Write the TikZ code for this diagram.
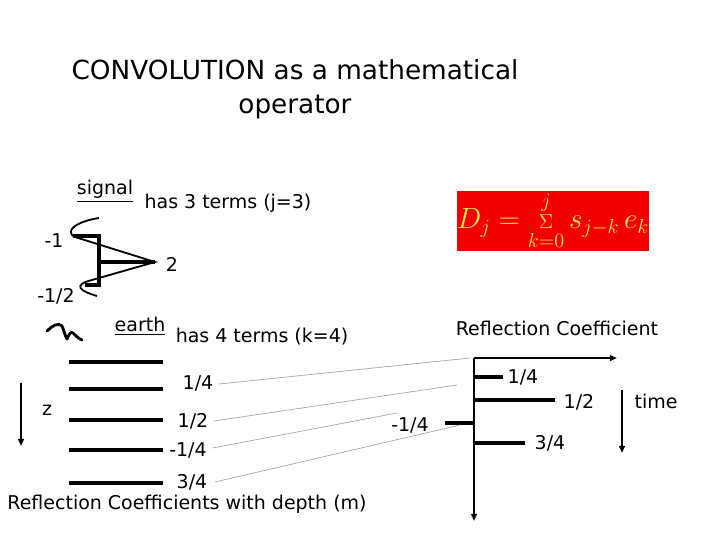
\documentclass[tikz,border=0pt]{standalone}
\usepackage{fontspec}
\usepackage{amsmath}
\setmainfont{DejaVu Sans}
\usetikzlibrary{arrows.meta, positioning}
\definecolor{formbg}{HTML}{F20000}
\definecolor{formfg}{HTML}{FFE94A}
\definecolor{thinline}{HTML}{A8A8A8}

\begin{document}
\begin{tikzpicture}[
    x=0.025cm, y=-0.025cm,
    every node/.style={font=\fontsize{13.5}{16}\selectfont, inner sep=1pt},
    titlebox/.style={font=\fontsize{18.7}{24}\selectfont, align=center},
    layer/.style={line width=2.2pt},
    spike/.style={line width=2.2pt},
    wavy/.style={line width=1.3pt},
    guide/.style={draw=thinline, line width=0.5pt},
    arr/.style={-{Triangle[length=5pt,width=4pt]}, line width=1.6pt},
    formula/.style={fill=formbg, text=formfg, minimum width=4.8cm, minimum height=1.475cm, inner sep=0pt, font=\fontsize{20}{24}\selectfont}
]
\useasboundingbox (0,0) rectangle (720,540);

\node[titlebox] (title) at (295,89) {CONVOLUTION as a mathematical\\operator};

\node (sig) at (105,191) {\underline{signal}};
\node (sigterms) at (228,203) {has 3 terms (j=3)};
\node (sm1) at (54,241) {-1};
\node (stwo) at (172,264) {2};
\node (smhalf) at (56,296) {-1/2};

\draw[wavy] (99,218) .. controls (78,221) and (63,231) .. (75,237) -- (155,262) -- (92,280)
    .. controls (72,285) and (80,291) .. (97,296);
\draw[layer] (73,236) -- (99,236) -- (99,285) -- (85,285);
\draw[layer] (99,262) -- (155,262);

\draw[line width=2pt, line cap=round, line join=round] (47,331) .. controls (52,326) and (58,322) .. (62,326)
    .. controls (64,330) and (65,336) .. (67,339) .. controls (69,334) and (71,331) .. (73,333)
    .. controls (76,336) and (79,339) .. (82,340);

\node (earth) at (140,326) {\underline{earth}};
\node (earthterms) at (262,337) {has 4 terms (k=4)};

\draw[line width=3pt] (69,362) -- (163,362);
\draw[layer] (69,389) -- (163,389);
\draw[layer] (69,420) -- (163,420);
\draw[layer] (69,450) -- (163,450);
\draw[layer] (69,483) -- (163,483);

\node (d1) at (198,383) {1/4};
\node (d2) at (193,421) {1/2};
\node (d3) at (188,450) {-1/4};
\node (d4) at (192,482) {3/4};

\coordinate (zt) at (21,383);
\coordinate (zb) at (21,446);
\draw[arr] (zt) -- (zb);
\node (zlbl) at (47,410) {z};

\node (depth) at (187,504) {Reflection Coefficients with depth (m)};

\node[formula] (conv) at (553,221) {$D_{j} = \mathop{\scriptstyle\Sigma}\limits_{k=0}^{j} s_{j-k}\,e_{k}$};

\node (rc) at (557,328) {Reflection Coefficient};

\coordinate (origin) at (474,358);
\coordinate (tend) at (474,521);
\coordinate (rend) at (617,358);
\draw[arr] (origin) -- (tend);
\draw[arr] (origin) -- (rend);

\coordinate (r1) at (474,377);
\coordinate (r2) at (474,400);
\coordinate (r3) at (474,423);
\coordinate (r4) at (474,443);
\node (t1) at (523,377) {1/4};
\node (t2) at (579,402) {1/2};
\node (t3) at (410,425) {-1/4};
\node (t4) at (550,443) {3/4};
\draw[spike] (r1) -- (503,377);
\draw[spike] (r2) -- (555,400);
\draw[spike] (r3) -- (445,423);
\draw[spike] (r4) -- (525,443);

\draw[guide] (d1.east) ++(4,1) -- (470,358);
\draw[guide] (d2.east) ++(4,0) -- (457,385);
\draw[guide] (d3.east) ++(4,-2) -- (397,413);
\draw[guide] (d4.east) ++(6,0) -- (460,425);

\coordinate (tt) at (622,390);
\coordinate (tb) at (622,453);
\draw[arr] (tt) -- (tb);
\node (time) at (656,401) {time};
\end{tikzpicture}
\end{document}
